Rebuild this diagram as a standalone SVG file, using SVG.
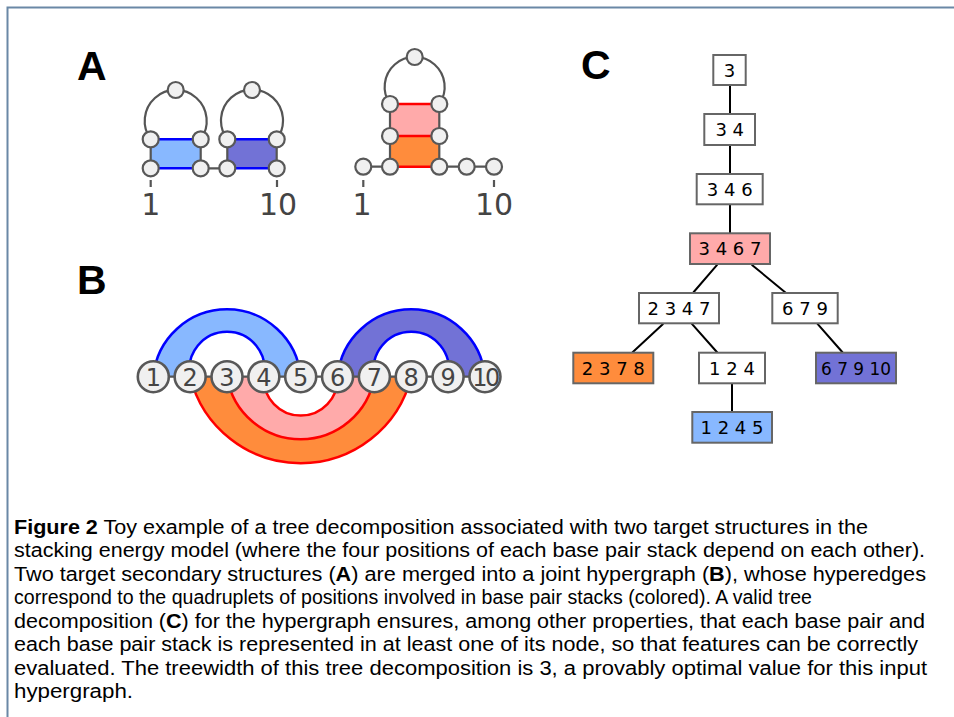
<svg xmlns="http://www.w3.org/2000/svg" width="954" height="717" viewBox="0 0 954 717">
<style>
.bg{fill:#ffffff}
.frame{fill:none;stroke:#6a88a6;stroke-width:2}
.lbl{font-family:"Liberation Sans",Arial,sans-serif;font-weight:bold;font-size:41px;fill:#000}
.bb{fill:none;stroke:#555;stroke-width:2.2}
.nd{fill:#f0f0f0;stroke:#585858;stroke-width:2.2}
.ndb{fill:#f0f0f0;stroke:#585858;stroke-width:2.6}
.pos{font-family:"DejaVu Sans",sans-serif;font-size:30px;fill:#444;text-anchor:middle}
.num{font-family:"DejaVu Sans",sans-serif;font-size:24px;fill:#444;text-anchor:middle}
.bl{stroke:#0000ff;stroke-width:2.5;fill:none}
.rd{stroke:#ff0000;stroke-width:2.5;fill:none}
.lb{fill:#88b8ff}
.pu{fill:#7272d6}
.pk{fill:#ffaaaa}
.or{fill:#ff8c3c}
.box{stroke:#666;stroke-width:2}
.wh{fill:#ffffff}
.tt{font-family:"DejaVu Sans",sans-serif;font-size:18px;fill:#000;text-anchor:middle}
.edge{stroke:#000;stroke-width:2;fill:none}
.cap{font-family:"Liberation Sans",Arial,sans-serif;font-size:20px;fill:#000}
.b{font-weight:bold}
</style>
<rect class="bg" x="0" y="0" width="954" height="717"/>
<path class="frame" d="M7.5,717 V7.5 H954"/>

<text class="lbl" x="77" y="80">A</text>
<text class="lbl" x="77" y="294">B</text>
<text class="lbl" x="581" y="79">C</text>

<!-- Panel A, structure 1 -->
<g id="structA1">
  <path class="bb" d="M150.7,139.3 A31,31 0 1 1 200.7,139.3"/>
  <path class="bb" d="M227.3,139.3 A31,31 0 1 1 276.7,139.3"/>
  <rect class="lb" x="150.7" y="139.3" width="50" height="29"/>
  <rect class="pu" x="227.3" y="139.3" width="49.4" height="29"/>
  <path class="bb" d="M150.7,139.3 V168.3 M200.7,139.3 V168.3 M227.3,139.3 V168.3 M276.7,139.3 V168.3 M200.7,168.3 H227.3"/>
  <path class="bl" d="M150.7,139.3 H200.7 M150.7,168.3 H200.7 M227.3,139.3 H276.7 M227.3,168.3 H276.7"/>
  <circle class="nd" cx="175.7" cy="90" r="8"/>
  <circle class="nd" cx="252" cy="90" r="8"/>
  <circle class="nd" cx="150.7" cy="139.3" r="8"/>
  <circle class="nd" cx="200.7" cy="139.3" r="8"/>
  <circle class="nd" cx="150.7" cy="168.3" r="8"/>
  <circle class="nd" cx="200.7" cy="168.3" r="8"/>
  <circle class="nd" cx="227.3" cy="139.3" r="8"/>
  <circle class="nd" cx="276.7" cy="139.3" r="8"/>
  <circle class="nd" cx="227.3" cy="168.3" r="8"/>
  <circle class="nd" cx="276.7" cy="168.3" r="8"/>
  <path class="bb" d="M150.7,180 V187 M277,180 V187"/>
  <text class="pos" x="150.7" y="215">1</text>
  <text class="pos" x="278" y="215">10</text>
</g>

<!-- Panel A, structure 2 -->
<g id="structA2">
  <path class="bb" d="M390,104 A30,30 0 1 1 439.3,104"/>
  <rect class="pk" x="390" y="104" width="49.3" height="32"/>
  <rect class="or" x="390" y="136" width="49.3" height="30.7"/>
  <path class="bb" d="M390,104 V166.7 M439.3,104 V166.7 M363.3,166.7 H390 M439.3,166.7 H494"/>
  <path class="rd" d="M390,104 H439.3 M390,136 H439.3 M390,166.7 H439.3"/>
  <circle class="nd" cx="414.7" cy="57" r="8"/>
  <circle class="nd" cx="390" cy="104" r="8"/>
  <circle class="nd" cx="439.3" cy="104" r="8"/>
  <circle class="nd" cx="390" cy="136" r="8"/>
  <circle class="nd" cx="439.3" cy="136" r="8"/>
  <circle class="nd" cx="363.3" cy="166.7" r="8"/>
  <circle class="nd" cx="390" cy="166.7" r="8"/>
  <circle class="nd" cx="439.3" cy="166.7" r="8"/>
  <circle class="nd" cx="466.7" cy="166.7" r="8"/>
  <circle class="nd" cx="494" cy="166.7" r="8"/>
  <path class="bb" d="M363.3,180 V187 M494,180 V187"/>
  <text class="pos" x="362" y="215">1</text>
  <text class="pos" x="494" y="215">10</text>
</g>

<!-- Panel B hypergraph -->
<g id="hyperedges">
  <path class="lb" d="M153.3,376.7 A74,74 0 0 1 300.7,376.7 L263.85,376.7 A37.6,37.6 0 1 0 190.15,376.7 Z"/>
  <path class="pu" d="M337.55,376.7 A74,74 0 0 1 484.95,376.7 L448.1,376.7 A37.6,37.6 0 1 0 374.4,376.7 Z"/>
  <path class="or" d="M190.15,376.7 A113.9,113.9 0 0 0 411.25,376.7 L374.4,376.7 A74.7,74.7 0 0 1 227,376.7 Z"/>
  <path class="pk" d="M227,376.7 A74.7,74.7 0 0 0 374.4,376.7 L337.55,376.7 A36.9,36.9 0 1 1 263.85,376.7 Z"/>
  <path class="bl" d="M153.3,376.7 A74,74 0 0 1 300.7,376.7 M263.85,376.7 A37.6,37.6 0 1 0 190.15,376.7"/>
  <path class="bl" d="M337.55,376.7 A74,74 0 0 1 484.95,376.7 M448.1,376.7 A37.6,37.6 0 1 0 374.4,376.7"/>
  <path class="rd" d="M190.15,376.7 A113.9,113.9 0 0 0 411.25,376.7 M227,376.7 A74.7,74.7 0 0 0 374.4,376.7 M337.55,376.7 A36.9,36.9 0 1 1 263.85,376.7"/>
</g>
<g id="backbone">
  <path class="bb" d="M153.3,376.7 H484.95"/>
</g>
<g id="p1"><circle class="ndb" cx="153.3" cy="376.7" r="15.5"/><text class="num" x="153.3" y="385.5">1</text></g>
<g id="p2"><circle class="ndb" cx="190.15" cy="376.7" r="15.5"/><text class="num" x="190.15" y="385.5">2</text></g>
<g id="p3"><circle class="ndb" cx="227" cy="376.7" r="15.5"/><text class="num" x="227" y="385.5">3</text></g>
<g id="p4"><circle class="ndb" cx="263.85" cy="376.7" r="15.5"/><text class="num" x="263.85" y="385.5">4</text></g>
<g id="p5"><circle class="ndb" cx="300.7" cy="376.7" r="15.5"/><text class="num" x="300.7" y="385.5">5</text></g>
<g id="p6"><circle class="ndb" cx="337.55" cy="376.7" r="15.5"/><text class="num" x="337.55" y="385.5">6</text></g>
<g id="p7"><circle class="ndb" cx="374.4" cy="376.7" r="15.5"/><text class="num" x="374.4" y="385.5">7</text></g>
<g id="p8"><circle class="ndb" cx="411.25" cy="376.7" r="15.5"/><text class="num" x="411.25" y="385.5">8</text></g>
<g id="p9"><circle class="ndb" cx="448.1" cy="376.7" r="15.5"/><text class="num" x="448.1" y="385.5">9</text></g>
<g id="p10"><circle class="ndb" cx="484.95" cy="376.7" r="15.5"/><text class="num" x="484.95" y="385.5" letter-spacing="-2.5">10</text></g>

<!-- Panel C tree decomposition -->
<g id="tree-edges">
  <path class="edge" d="M730,85 V114 M730,145 V174 M730,204.3 V233.3 M717.3,264.7 L693.3,292.5 M751.7,264.7 L785.7,292.7 M663.3,323.7 L632.3,352.5 M691.7,323.7 L717.3,352.5 M817.3,323.7 L842.7,352.5 M732,383.3 V412"/>
</g>
<g id="t3"><rect class="box wh" x="713.3" y="55" width="32.4" height="30"/><text class="tt" x="729.5" y="76.5">3</text></g>
<g id="t34"><rect class="box wh" x="704.3" y="114" width="50.7" height="31"/><text class="tt" x="729.7" y="136">3 4</text></g>
<g id="t346"><rect class="box wh" x="696.7" y="174" width="66" height="30.3"/><text class="tt" x="729.7" y="195.6">3 4 6</text></g>
<g id="t3467"><rect class="box pk" x="690" y="233.3" width="80" height="30.7"/><text class="tt" x="730" y="255.2">3 4 6 7</text></g>
<g id="t2347"><rect class="box wh" x="639" y="293" width="80" height="30.3"/><text class="tt" x="679" y="314.6">2 3 4 7</text></g>
<g id="t679"><rect class="box wh" x="772.3" y="293" width="65.4" height="30.3"/><text class="tt" x="805" y="314.6">6 7 9</text></g>
<g id="t2378"><rect class="box or" x="573.3" y="352.7" width="80" height="30.6"/><text class="tt" x="613.3" y="374.5">2 3 7 8</text></g>
<g id="t124"><rect class="box wh" x="699" y="352.7" width="66" height="30.6"/><text class="tt" x="732" y="374.5">1 2 4</text></g>
<g id="t67910"><rect class="box pu" x="816" y="352.7" width="80" height="30.6"/><text class="tt" x="856" y="374.5" textLength="70" lengthAdjust="spacingAndGlyphs">6 7 9 10</text></g>
<g id="t1245"><rect class="box lb" x="692.3" y="412" width="79.7" height="30.7"/><text class="tt" x="732" y="433.8">1 2 4 5</text></g>

<!-- Caption -->
<g id="caption">
  <text class="cap" x="14" y="533.5" textLength="854" lengthAdjust="spacingAndGlyphs"><tspan class="b">Figure 2</tspan> Toy example of a tree decomposition associated with two target structures in the</text>
  <text class="cap" x="14" y="557" textLength="911" lengthAdjust="spacingAndGlyphs">stacking energy model (where the four positions of each base pair stack depend on each other).</text>
  <text class="cap" x="14" y="580.5" textLength="912" lengthAdjust="spacingAndGlyphs">Two target secondary structures (<tspan class="b">A</tspan>) are merged into a joint hypergraph (<tspan class="b">B</tspan>), whose hyperedges</text>
  <text class="cap" x="14" y="604" textLength="798" lengthAdjust="spacingAndGlyphs">correspond to the quadruplets of positions involved in base pair stacks (colored). A valid tree</text>
  <text class="cap" x="14" y="627.5" textLength="911" lengthAdjust="spacingAndGlyphs">decomposition (<tspan class="b">C</tspan>) for the hypergraph ensures, among other properties, that each base pair and</text>
  <text class="cap" x="14" y="651" textLength="904" lengthAdjust="spacingAndGlyphs">each base pair stack is represented in at least one of its node, so that features can be correctly</text>
  <text class="cap" x="14" y="674.5" textLength="913" lengthAdjust="spacingAndGlyphs">evaluated. The treewidth of this tree decomposition is 3, a provably optimal value for this input</text>
  <text class="cap" x="14" y="698" textLength="119" lengthAdjust="spacingAndGlyphs">hypergraph.</text>
</g>
</svg>
